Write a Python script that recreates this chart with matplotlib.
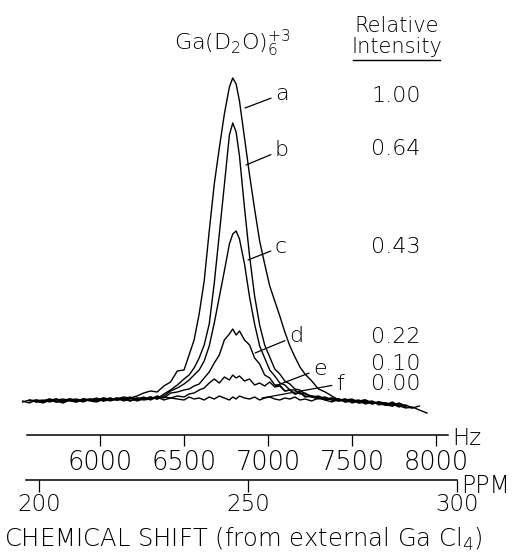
import numpy as np
import matplotlib
matplotlib.use('Agg')
import matplotlib.pyplot as plt
from matplotlib.lines import Line2D

plt.rcParams['font.family'] = ['DejaVu Sans']
plt.rcParams['font.weight'] = 'light'
plt.rcParams['mathtext.default'] = 'regular'

nan = np.nan

# ---------------- data ----------------
freq_hz = [5540, 5580, 5620, 5660, 5700, 5740, 5780, 5820, 5860, 5900,
           5940, 5980, 6020, 6060, 6100, 6140, 6180, 6220, 6260, 6300,
           6340, 6380, 6420, 6460, 6500, 6530, 6560, 6590, 6620, 6650,
           6680, 6710, 6740, 6770, 6790, 6810, 6830, 6860, 6890, 6920,
           6950, 6980, 7010, 7040, 7070, 7100, 7130, 7160, 7190, 7220,
           7260, 7300, 7340, 7380, 7420, 7460, 7500, 7540, 7580, 7620,
           7660, 7700, 7740, 7780, 7820, 7860, 7900, 7946]

spec_a = [1, -1, 2, 1, 3, 0, 1, 3, 2, 0,
          3, 2, 4, 1, 3, 5, 4, 6, 9, 11,
          10, 16, 20, 31, 32, 47, 62, 88, 121, 171,
          218, 254, 288, 315, 324, 318, 301, 264, 227, 193,
          161, 138, 116, 101, 86, 70, 56, 45, 35, 28,
          21, 13, 10, 6, 2, 3, -1, 1, 2, -2,
          0, -1, -4, -2, -5, -6, -4, nan]

spec_b = [nan, 2, 0, 1, 3, 1, -1, 2, 3, 1,
          2, 4, 1, 2, 4, 3, 1, 4, 3, 5,
          3, 8, 12, 17, 23, 27, 34, 44, 57, 78,
          119, 168, 217, 267, 279, 270, 246, 194, 146, 106,
          77, 57, 45, 33, 28, 21, 18, 13, 12, 8,
          6, 5, 2, 4, 3, 0, 2, 1, -2, 0,
          -1, -3, 0, -4, -3, -6, nan, nan]

spec_c = [nan, nan, 1, 2, 0, 2, 3, 1, 0, 3,
          2, 1, 4, 3, 2, 4, 1, 3, 5, 2,
          5, 6, 11, 14, 18, 22, 27, 32, 41, 56,
          79, 105, 131, 158, 168, 171, 163, 138, 105, 78,
          56, 44, 32, 26, 19, 17, 12, 12, 8, 9,
          5, 6, 3, 4, 1, 2, 3, -1, 0, 1,
          -3, -1, -2, -5, nan, nan, nan, nan]

spec_d = [nan, nan, 0, 1, 2, 0, 2, 3, 1, 2,
          3, 1, 2, 4, 2, 3, 5, 2, 4, 3,
          6, 4, 9, 10, 12, 13, 16, 18, 24, 30,
          39, 47, 62, 68, 73, 67, 71, 62, 57, 44,
          38, 27, 24, 17, 17, 11, 12, 8, 9, 6,
          5, 3, 4, 2, 3, 0, 1, 2, -1, 0,
          -2, -3, -4, nan, nan, nan, nan, nan]

spec_e = [nan, 1, 2, 0, 1, 3, 1, 2, 0, 3,
          2, 3, 1, 4, 2, 3, 4, 1, 3, 5,
          3, 5, 4, 6, 5, 8, 9, 12, 14, 19,
          23, 19, 25, 22, 27, 24, 26, 21, 23, 17,
          19, 16, 20, 15, 16, 11, 12, 8, 10, 5,
          6, 4, 5, 2, 1, 3, 0, 1, 2, -1,
          0, -2, -3, -1, -4, nan, nan, nan]

spec_f = [0, 2, 1, -1, 2, 3, 0, 2, 1, 3,
          1, 0, 3, 2, 4, 1, 3, 4, 2, 3,
          5, 2, 4, 3, 2, 5, 3, 4, 2, 5,
          3, 6, 4, 2, 5, 3, 6, 4, 3, 5,
          2, 4, 5, 3, 2, 4, 3, 5, 2, 3,
          1, 4, 2, 0, 3, 1, 2, -1, 1, -2,
          0, -3, -1, -4, -6, -5, -8, -11]

curve_labels = ['a', 'b', 'c', 'd', 'e', 'f']
rel_intensity = ['1.00', '0.64', '0.43', '0.22', '0.10', '0.00']
hz_ticks = [6000, 6500, 7000, 7500, 8000]
ppm_ticks = [200, 250, 300]

# ---------------- layout ----------------
W, H = 514, 553
fig = plt.figure(figsize=(W / 100, H / 100), dpi=100)


def fx(x):
    return x / W


def fy(y):
    return 1 - y / H


ax = fig.add_axes([fx(15), fy(440), (470 - 15) / W, (440 - 60) / H])
ax.set_xlim(5494, 8202)
ax.set_ylim(-38, 342)

for vals in [spec_a, spec_b, spec_c, spec_d, spec_e, spec_f]:
    ax.plot(freq_hz, vals, color='black', lw=1.0, solid_joinstyle='round')

for s in ['left', 'right', 'top']:
    ax.spines[s].set_visible(False)
ax.spines['bottom'].set_position(('data', -33))
ax.spines['bottom'].set_bounds(5565, 8071)
ax.spines['bottom'].set_linewidth(1.1)
ax.set_yticks([])
ax.set_xticks(hz_ticks)
ax.set_xticklabels([str(t) for t in hz_ticks])
ax.tick_params(axis='x', direction='out', length=8, width=0.9, pad=2.5,
               labelsize=18.5)


def hz2ppm(h):
    return 200 + (np.asarray(h, dtype=float) - 5637) / 24.9


def ppm2hz(p):
    return 5637 + (np.asarray(p, dtype=float) - 200) * 24.9


sec = ax.secondary_xaxis(-40 / 380, functions=(hz2ppm, ppm2hz))
sec.set_xticks(ppm_ticks)
sec.set_xticklabels([str(t) for t in ppm_ticks])
sec.tick_params(axis='x', direction='out', length=8.5, width=0.9, pad=1,
                labelsize=16.5)
sec.spines['bottom'].set_bounds(197, 300)
sec.spines['bottom'].set_linewidth(1.1)

# axis unit labels
fig.text(fx(452), fy(445), 'Hz', ha='left', va='baseline', fontsize=16.5)
fig.text(fx(461), fy(493), 'PPM', ha='left', va='baseline', fontsize=17)
fig.text(fx(243), fy(547), r'CHEMICAL SHIFT (from external Ga Cl$_4$)',
         ha='center', va='baseline', fontsize=17.5)

# header texts
fig.text(fx(232), fy(50), r'Ga(D$_2$O)$_6^{+3}$', ha='center', va='baseline',
         fontsize=16)
fig.text(fx(397), fy(32), 'Relative', ha='center', va='baseline', fontsize=15)
fig.text(fx(397), fy(53), 'Intensity', ha='center', va='baseline', fontsize=15)
fig.add_artist(Line2D([fx(353), fx(440)], [fy(60), fy(60)], color='black',
                      lw=1.0, transform=fig.transFigure))

# relative intensity values
val_y = [102, 155, 253, 343, 370, 390]
for txt, yy in zip(rel_intensity, val_y):
    fig.text(fx(396), fy(yy), txt, ha='center', va='baseline', fontsize=16)

# curve letters with leader lines
leader_from = [(6863, 294), (6869, 237), (6881, 142), (6923, 49), (7042, 16),
               (6964, 4)]
letter_at = [(7083, 302), (7083, 246), (7077, 149), (7167, 60), (7309, 27),
             (7428, 12)]
for lab, p0, p1 in zip(curve_labels, leader_from, letter_at):
    ax.annotate(lab, xy=p0, xytext=p1, textcoords='data', ha='center',
                va='baseline', fontsize=16, annotation_clip=False,
                arrowprops=dict(arrowstyle='-', color='black', lw=0.9,
                                shrinkA=1, shrinkB=0))

fig.savefig('out.png', dpi=100)
